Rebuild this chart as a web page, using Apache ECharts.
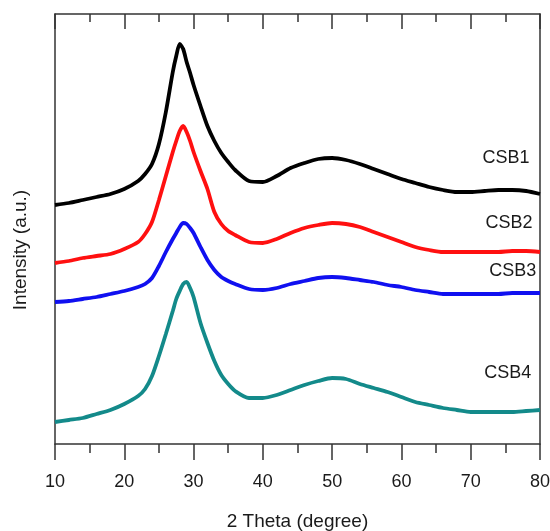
<!DOCTYPE html>
<html>
<head>
<meta charset="utf-8">
<script src="https://cdn.jsdelivr.net/npm/echarts@6/dist/echarts.min.js"></script>
<style>html,body{margin:0;padding:0;background:#fff;}#c{width:550px;height:531px;}</style>
</head>
<body>
<div id="c"></div>
<script>
var theta = [10,12,14,16,18,20,22,23,24,25,26,27,27.5,28,28.5,29,29.5,30,31,32,33,34,35,36,38,40,42,44,46,48,50,52,54,56,58,60,62,64,66,68,70,72,74,76,78,80];
var csb1 = [239,241,244,247,250,255,263,270,280,300,332,372,388,400,395,382,371,359,338,318,303,291,282,274,263,262,268,276,281,285,286,284,280,275,270,265,261,257,254,252,252,253,254,254,253,250];
var csb2 = [181,183,186,188,190,195,202,210,222,244,268,292,303,313,318,312,303,292,273,255,232,220,213,209,202,201,205,211,216,219,221,220,217,212,207,202,197,194,192,192,192,192,192,193,193,192];
var csb3 = [142,143,145,147,150,153,157,160,166,178,192,205,211,217,221,220,216,211,197,184,174,167,163,160,155,154,156,160,163,166,167,166,164,162,159,157,154,152,150,150,150,150,150,151,151,151];
var csb4 = [22,24,26,30,34,40,48,55,68,88,110,133,145,153,160,162,156,147,121,101,83,69,60,53,46,46,49,54,59,63,66,65,60,56,52,47,42,39,36,34,32,32,32,32,33,34];
var names = ['CSB1','CSB2','CSB3','CSB4'];
var colors = ['#000000','#ff1010','#1010f0','#138a8a'];
var labelX = [78.55, 78.98, 79.55, 78.8];
var labelY = [286, 221, 173, 71];
var xTicks = [10,20,30,40,50,60,70,80];

var all = [csb1, csb2, csb3, csb4];
function pairs(ys){ return theta.map(function(t,i){ return [t, ys[i]]; }); }

var FONT = 'Liberation Sans, Arial, sans-serif';
var chart = echarts.init(document.getElementById('c'), null, {renderer:'canvas'});
var axisLineStyle = {color:'#333', width:1.5};
var series = all.map(function(ys, k){
  return {
    type:'line', name:names[k], data:pairs(ys), showSymbol:false, smooth:0.25,
    lineStyle:{color:colors[k], width:3.8}, itemStyle:{color:colors[k]},
    xAxisIndex:0, yAxisIndex:0, silent:true,
    markPoint:{
      symbol:'circle', symbolSize:1, itemStyle:{color:'rgba(0,0,0,0)'},
      label:{show:true, position:'left', distance:0, formatter:'{b}', color:'#1a1a1a', fontSize:18, fontFamily:FONT},
      data:[{name:names[k], coord:[labelX[k], labelY[k]]}]
    }
  };
});

chart.setOption({
  animation:false,
  backgroundColor:'#fff',
  grid:{left:55, right:10, top:14, bottom:87, containLabel:false, outerBoundsMode:'none'},
  xAxis:[{
    type:'value', min:10, max:80, interval:10, position:'bottom',
    axisLine:{show:true, onZero:false, lineStyle:axisLineStyle},
    axisTick:{show:true, inside:false, length:16, lineStyle:axisLineStyle},
    minorTick:{show:true, splitNumber:2, length:9, lineStyle:axisLineStyle},
    splitLine:{show:false},
    axisLabel:{show:true, margin:29, fontSize:18, color:'#1a1a1a', fontFamily:FONT,
      formatter:function(v){ return xTicks.indexOf(v) >= 0 ? String(v) : ''; }},
    name:'2 Theta (degree)', nameLocation:'middle', nameGap:68,
    nameTextStyle:{fontSize:19, color:'#1a1a1a', fontFamily:FONT}
  },{
    type:'value', min:10, max:80, interval:10, position:'top',
    axisLine:{show:true, onZero:false, lineStyle:axisLineStyle},
    axisTick:{show:true, inside:true, length:15, lineStyle:axisLineStyle},
    minorTick:{show:true, splitNumber:2, length:8, lineStyle:axisLineStyle},
    splitLine:{show:false}, axisLabel:{show:false}
  }],
  yAxis:[{
    type:'value', min:0, max:430, position:'left',
    axisLine:{show:true, onZero:false, lineStyle:axisLineStyle},
    axisTick:{show:false}, axisLabel:{show:false}, splitLine:{show:false}
  },{
    type:'value', min:0, max:430, position:'right',
    axisLine:{show:true, onZero:false, lineStyle:axisLineStyle},
    axisTick:{show:false}, axisLabel:{show:false}, splitLine:{show:false}
  }],
  graphic:[{
    type:'text', x:21, y:250, rotation:Math.PI/2,
    style:{text:'Intensity (a.u.)', fontSize:19, fill:'#1a1a1a', fontFamily:FONT, align:'center', verticalAlign:'middle'}
  }],
  series:series
});
</script>
</body>
</html>
